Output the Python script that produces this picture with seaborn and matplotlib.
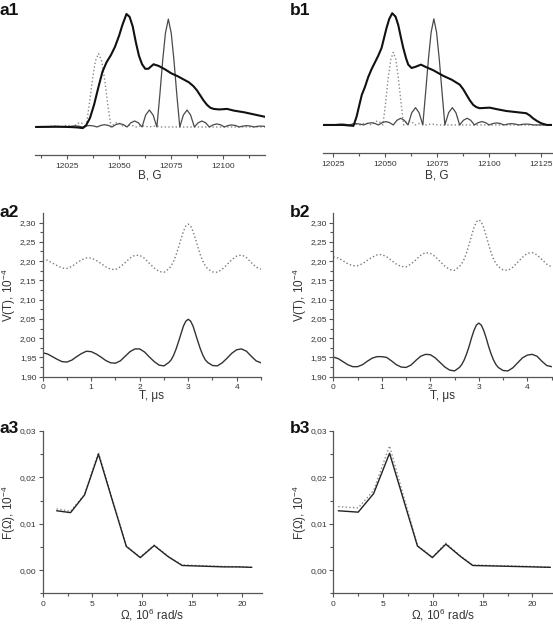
import matplotlib

matplotlib.use("Agg")

import matplotlib.pyplot as plt
import seaborn as sns
from matplotlib.ticker import FuncFormatter, MultipleLocator

# ---- a1: EPR spectrum and two sinc-like components ----
a1_main_b = [12010, 12020, 12026, 12030, 12032.5, 12034, 12036, 12038, 12040, 12042, 12044,
             12046, 12048, 12050, 12051.5, 12053.5, 12055, 12056.5, 12058, 12059.5, 12061,
             12062.5, 12064, 12066.5, 12069, 12072, 12075, 12078, 12081, 12083.5, 12085.7,
             12087.3, 12088.9, 12090.5, 12092.2, 12093.8, 12095.3, 12098, 12101.8, 12105,
             12110, 12115, 12120]
a1_main_i = [0.0, 0.003, 0.0, -0.004, -0.01, 0.01, 0.08, 0.2, 0.35, 0.49, 0.575, 0.635, 0.71,
             0.81, 0.9, 1.0, 0.975, 0.89, 0.75, 0.63, 0.555, 0.515, 0.515, 0.555, 0.54, 0.51,
             0.475, 0.45, 0.42, 0.395, 0.36, 0.325, 0.28, 0.235, 0.195, 0.17, 0.16, 0.155,
             0.16, 0.145, 0.13, 0.11, 0.09]

a1_thin_b = [12010.0, 12025.3, 12027.1, 12028.9, 12030.6, 12032.4, 12034.2, 12035.9, 12037.7,
             12039.4, 12041.2, 12043.0, 12044.8, 12046.6, 12048.4, 12050.2, 12052.0, 12053.8,
             12055.6, 12057.4, 12059.2, 12061.0, 12062.7, 12064.5, 12066.3, 12068.1, 12069.5,
             12070.9, 12072.2, 12073.6, 12075.0, 12076.3, 12077.7, 12079.1, 12080.8, 12082.6,
             12084.3, 12086.1, 12087.9, 12089.7, 12091.5, 12093.3, 12095.1, 12096.9, 12098.7,
             12100.5, 12102.3, 12104.0, 12105.8, 12107.6, 12109.4, 12111.2, 12113.0, 12114.8,
             12116.4, 12118.0, 12119.6, 12121.0]
a1_thin_i = [0, 0, .007, .010, .007, 0, .009, .013, .009, 0, .014, .020, .014, 0, .021, .030,
             .021, 0, .037, .053, .037, 0, .105, .150, .105, 0, .28, .59, .83, .955, .83, .59,
             .28, 0, .105, .150, .105, 0, .037, .053, .037, 0, .019, .027, .019, 0, .013, .018,
             .013, 0, .008, .012, .008, 0, .006, .008, .006, 0]

a1_dot_b = [12010.0, 12016.1, 12017.6, 12019.1, 12020.6, 12022.1, 12023.6, 12025.1, 12026.6,
            12028.1, 12029.6, 12031.1, 12032.6, 12034.1, 12035.6, 12037.1, 12038.6, 12040.1,
            12041.6, 12043.1, 12044.6, 12046.1, 12047.6, 12049.1, 12050.6, 12052.1, 12053.6,
            12055.1, 12056.6, 12058.1, 12059.6, 12061.1, 12062.6, 12064.1, 12065.6, 12067.1,
            12068.6, 12070.1, 12120.0]
a1_dot_i = [0, 0, .007, .010, .007, 0, .011, .015, .011, 0, .028, .040, .028, 0, .19, .41, .585,
            .65, .585, .41, .19, 0, .028, .040, .028, 0, .011, .015, .011, 0, .007, .010, .007,
            0, .005, .007, .005, 0, 0]

# ---- b1 ----
b1_main_b = [12020, 12030, 12033, 12034.8, 12036.3, 12037.5, 12038.8, 12040.3, 12041.9, 12043.5,
             12045.1, 12046.7, 12048.3, 12049.5, 12050.7, 12052, 12053.4, 12055, 12056.3,
             12057.5, 12058.7, 12060, 12061.1, 12062.7, 12064.5, 12067.2, 12070, 12073.1,
             12077.9, 12082, 12085.9, 12087.5, 12089.1, 12090.7, 12092.3, 12093.8, 12095.4,
             12100.2, 12104, 12108.2, 12113, 12117.8, 12119.5, 12121, 12123, 12125, 12127.7,
             12130]
b1_main_i = [0.0, 0.0, -0.005, -0.008, 0.075, 0.17, 0.27, 0.34, 0.43, 0.5, 0.56, 0.62, 0.69,
             0.78, 0.87, 0.95, 1.0, 0.97, 0.895, 0.79, 0.69, 0.6, 0.54, 0.51, 0.52, 0.54, 0.515,
             0.49, 0.44, 0.405, 0.36, 0.32, 0.27, 0.22, 0.18, 0.16, 0.15, 0.155, 0.14, 0.125,
             0.115, 0.105, 0.085, 0.06, 0.035, 0.015, 0.0, 0.0]

b1_thin_b = [12020.0, 12025.5, 12027.3, 12029.1, 12030.8, 12032.6, 12034.4, 12036.2, 12037.9,
             12039.7, 12041.5, 12043.3, 12045.0, 12046.8, 12048.6, 12050.4, 12052.1, 12053.9,
             12055.7, 12057.5, 12059.2, 12061.0, 12062.8, 12064.6, 12066.3, 12068.1, 12069.4,
             12070.8, 12072.1, 12073.4, 12074.7, 12076.0, 12077.4, 12078.7, 12080.5, 12082.3,
             12084.0, 12085.8, 12087.6, 12089.4, 12091.1, 12092.9, 12094.7, 12096.5, 12098.2,
             12100.0, 12101.8, 12103.6, 12105.3, 12107.1, 12108.9, 12110.7, 12112.4, 12114.2,
             12116.0, 12117.8, 12119.5, 12121.3, 12130.0]
b1_thin_i = [0, 0, .006, .008, .006, 0, .008, .012, .008, 0, .014, .020, .014, 0, .021, .030,
             .021, 0, .042, .060, .042, 0, .11, .155, .11, 0, .28, .59, .83, .95, .83, .59, .28,
             0, .11, .155, .11, 0, .042, .060, .042, 0, .021, .030, .021, 0, .013, .018, .013,
             0, .008, .012, .008, 0, .006, .008, .006, 0, 0]

b1_dot_b = [12020.0, 12032.4, 12033.8, 12035.2, 12036.5, 12037.9, 12039.3, 12040.7, 12042.0,
            12043.4, 12044.8, 12046.2, 12047.5, 12048.9, 12050.2, 12051.4, 12052.7, 12053.9,
            12055.2, 12056.4, 12057.7, 12058.9, 12060.3, 12061.7, 12063.0, 12064.4, 12065.8,
            12067.2, 12068.5, 12069.9, 12071.3, 12072.7, 12074.0, 12075.4, 12130.0]
b1_dot_i = [0, 0, .006, .008, .006, 0, .011, .015, .011, 0, .025, .035, .025, 0, .19, .41, .585,
            .65, .585, .41, .19, 0, .025, .035, .025, 0, .011, .015, .011, 0, .006, .008, .006,
            0, 0]

# ---- a2 / b2: V(T) ----
t_us = [0.0, 0.1, 0.2, 0.3, 0.4, 0.5, 0.6, 0.7, 0.8, 0.9, 1.0, 1.1, 1.2, 1.3, 1.4, 1.5, 1.6,
        1.7, 1.8, 1.9, 2.0, 2.1, 2.2, 2.3, 2.4, 2.5,
        2.6, 2.65, 2.7, 2.75, 2.8, 2.85, 2.9, 2.95, 3.0, 3.05, 3.1, 3.15, 3.2, 3.25, 3.3, 3.35,
        3.4,
        3.5, 3.6, 3.7, 3.8, 3.9, 4.0, 4.1, 4.2, 4.3, 4.4, 4.5]
a2_upper = [2.205, 2.202, 2.195, 2.188, 2.182, 2.181, 2.186, 2.195, 2.203, 2.208, 2.208, 2.202,
            2.194, 2.185, 2.179, 2.178, 2.185, 2.196, 2.208, 2.215, 2.215, 2.207, 2.194, 2.182,
            2.173, 2.171,
            2.180, 2.188, 2.200, 2.216, 2.236, 2.257, 2.277, 2.291, 2.296, 2.291, 2.277, 2.257,
            2.236, 2.216, 2.200, 2.188, 2.180,
            2.172, 2.171, 2.179, 2.191, 2.204, 2.213, 2.216, 2.209, 2.196, 2.184, 2.179]
a2_lower = [1.962, 1.959, 1.952, 1.945, 1.939, 1.938, 1.943, 1.952, 1.960, 1.966, 1.965, 1.959,
            1.951, 1.942, 1.936, 1.935, 1.941, 1.953, 1.965, 1.972, 1.972, 1.964, 1.951, 1.939,
            1.930, 1.928,
            1.937, 1.944, 1.956, 1.972, 1.991, 2.011, 2.031, 2.044, 2.049, 2.044, 2.031, 2.011,
            1.991, 1.972, 1.956, 1.944, 1.937,
            1.929, 1.928, 1.936, 1.948, 1.961, 1.970, 1.972, 1.966, 1.953, 1.941, 1.936]
b2_upper = [2.211, 2.208, 2.201, 2.193, 2.188, 2.188, 2.193, 2.202, 2.210, 2.216, 2.217, 2.211,
            2.202, 2.192, 2.186, 2.185, 2.192, 2.203, 2.215, 2.222, 2.220, 2.212, 2.199, 2.187,
            2.178, 2.176,
            2.186, 2.194, 2.206, 2.223, 2.244, 2.266, 2.287, 2.302, 2.307, 2.302, 2.287, 2.266,
            2.244, 2.223, 2.206, 2.194, 2.186,
            2.177, 2.176, 2.184, 2.197, 2.210, 2.220, 2.222, 2.216, 2.204, 2.192, 2.185]
b2_lower = [1.951, 1.947, 1.939, 1.931, 1.926, 1.926, 1.931, 1.940, 1.948, 1.952, 1.952, 1.950,
            1.941, 1.931, 1.925, 1.924, 1.930, 1.942, 1.953, 1.958, 1.957, 1.949, 1.937, 1.925,
            1.917, 1.915,
            1.924, 1.932, 1.944, 1.960, 1.979, 2.001, 2.020, 2.034, 2.039, 2.034, 2.020, 2.001,
            1.979, 1.960, 1.944, 1.932, 1.924,
            1.916, 1.915, 1.923, 1.936, 1.949, 1.956, 1.958, 1.953, 1.940, 1.929, 1.926]

# ---- a3 / b3: F(Omega) ----
omega_a = [1.4, 2.8, 4.2, 5.6, 7.0, 8.4, 9.8, 11.2, 12.6, 14.0, 15.4, 16.8, 18.2, 19.6, 21.0]
a3_solid = [0.0128, 0.0124, 0.0162, 0.0250, 0.0150, 0.0051, 0.0027, 0.0053, 0.0029, 0.0010,
            0.0009, 0.0008, 0.0007, 0.0007, 0.0006]
a3_dot = [0.0132, 0.0127, 0.0163, 0.0254, 0.0152, 0.0052, 0.0028, 0.0054, 0.0030, 0.0011,
          0.0010, 0.0009, 0.0008, 0.0007, 0.0006]
omega_b = [0.5, 2.5, 4.05, 5.65, 7.05, 8.45, 9.95, 11.3, 12.8, 14.0, 16.0, 18.0, 20.0, 21.8]
b3_solid = [0.0128, 0.0125, 0.0165, 0.0252, 0.0152, 0.0052, 0.0027, 0.0056, 0.0029, 0.0010,
            0.0009, 0.0008, 0.0007, 0.0006]
b3_dot = [0.0137, 0.0134, 0.0172, 0.0268, 0.0160, 0.0053, 0.0028, 0.0058, 0.0030, 0.0011,
          0.0010, 0.0009, 0.0008, 0.0006]

sns.set_theme(style="ticks")
plt.rcParams["font.family"] = ["Liberation Sans", "DejaVu Sans"]
plt.rcParams["mathtext.default"] = "regular"

AX_COLOR = "#555555"
TXT_COLOR = "#333333"
LABEL_SIZE = 8.5


def comma_fmt(decimals):
    return FuncFormatter(lambda v, p: f"{v:.{decimals}f}".replace(".", ","))


def style_axes(ax, spines=("left", "bottom")):
    for side in ("left", "right", "top", "bottom"):
        ax.spines[side].set_visible(side in spines)
        ax.spines[side].set_color(AX_COLOR)
        ax.spines[side].set_linewidth(0.9)
    ax.tick_params(which="both", direction="out", colors=AX_COLOR, labelcolor=TXT_COLOR,
                   labelsize=6, width=0.8, pad=1.5)
    ax.tick_params(axis="x", which="both", pad=2.5)
    ax.tick_params(which="major", length=3)
    ax.tick_params(which="minor", length=2)
    ax.set_facecolor("white")


def draw(ax, x, y, color, lw, ls="-"):
    sns.lineplot(x=x, y=y, ax=ax, color=color, lw=lw, linestyle=ls,
                 estimator=None, sort=False, legend=False)


fig = plt.figure(figsize=(5.53, 6.25), dpi=100)
fig.patch.set_facecolor("white")

# spectra panels
spec_panels = [
    ([0.0633, 0.752, 0.4159, 0.2352], (12009.6, 12120), (-0.248, 1.053), -0.102,
     (a1_main_b, a1_main_i), (a1_thin_b, a1_thin_i), (a1_dot_b, a1_dot_i),
     [12025, 12050, 12075, 12100]),
    ([0.5835, 0.7552, 0.4141, 0.232], (12020, 12130), (-0.251, 1.047), -0.117,
     (b1_main_b, b1_main_i), (b1_thin_b, b1_thin_i), (b1_dot_b, b1_dot_i),
     [12025, 12050, 12075, 12100, 12125]),
]
for rect, xlim, ylim, xlab_y, main, thin, dot, ticks in spec_panels:
    ax = fig.add_axes(rect)
    style_axes(ax, spines=("bottom",))
    draw(ax, dot[0], dot[1], "#8a8a8a", 1.0, ":")
    draw(ax, thin[0], thin[1], "#4a4a4a", 0.9)
    draw(ax, main[0], main[1], "#111111", 1.5)
    ax.set_xlim(*xlim)
    ax.set_ylim(*ylim)
    ax.set_xticks(ticks)
    ax.xaxis.set_minor_locator(MultipleLocator(12.5))
    ax.set_yticks([])
    ax.set_xlabel("B, G", fontsize=LABEL_SIZE, color=TXT_COLOR)
    ax.xaxis.set_label_coords(0.5, xlab_y)
    ax.set_ylabel("")

# V(T) panels
for rect, upper, lower in [([0.0772, 0.3973, 0.3948, 0.2614], a2_upper, a2_lower),
                           ([0.6027, 0.3973, 0.3948, 0.2614], b2_upper, b2_lower)]:
    ax = fig.add_axes(rect)
    style_axes(ax)
    draw(ax, t_us, upper, "#7a7a7a", 1.0, ":")
    draw(ax, t_us, lower, "#333333", 1.0)
    ax.set_xlim(0, 4.5)
    ax.set_ylim(1.90, 2.324)
    ax.set_xticks([0, 1, 2, 3, 4])
    ax.xaxis.set_minor_locator(MultipleLocator(0.5))
    ax.set_yticks([1.90, 1.95, 2.00, 2.05, 2.10, 2.15, 2.20, 2.25, 2.30])
    ax.yaxis.set_minor_locator(MultipleLocator(0.025))
    ax.yaxis.set_major_formatter(comma_fmt(2))
    ax.set_xlabel("T, μs", fontsize=LABEL_SIZE, color=TXT_COLOR)
    ax.set_ylabel("V(T), 10$^{-4}$", fontsize=LABEL_SIZE, color=TXT_COLOR)
    ax.xaxis.set_label_coords(0.5, -0.083)
    ax.yaxis.set_label_coords(-0.113, 0.5)

# F(Omega) panels
for rect, om, solid, dot in [([0.0772, 0.0507, 0.3962, 0.2597], omega_a, a3_solid, a3_dot),
                             ([0.6027, 0.0507, 0.3962, 0.2597], omega_b, b3_solid, b3_dot)]:
    ax = fig.add_axes(rect)
    style_axes(ax)
    draw(ax, om, dot, "#8a8a8a", 1.0, ":")
    draw(ax, om, solid, "#222222", 1.0)
    ax.set_xlim(0, 22)
    ax.set_ylim(-0.005, 0.03)
    ax.set_xticks([0, 5, 10, 15, 20])
    ax.xaxis.set_minor_locator(MultipleLocator(2.5))
    ax.set_yticks([0.0, 0.01, 0.02, 0.03])
    ax.yaxis.set_minor_locator(MultipleLocator(0.005))
    ax.yaxis.set_major_formatter(comma_fmt(2))
    ax.set_xlabel("Ω, 10$^{6}$ rad/s", fontsize=LABEL_SIZE, color=TXT_COLOR)
    ax.set_ylabel("F(Ω), 10$^{-4}$", fontsize=LABEL_SIZE, color=TXT_COLOR)
    ax.xaxis.set_label_coords(0.5, -0.082)
    ax.yaxis.set_label_coords(-0.113, 0.5)

# panel letters
for label, x, y in [("a1", 0, 3), ("b1", 290, 3), ("a2", 0, 205), ("b2", 290, 205),
                    ("a3", 0, 421), ("b3", 290, 421)]:
    fig.text(x / 553, 1 - y / 625, label, fontsize=12.5, fontweight="bold",
             color="#111111", ha="left", va="top")

fig.savefig("out.png", dpi=100, facecolor="white")
plt.close(fig)
